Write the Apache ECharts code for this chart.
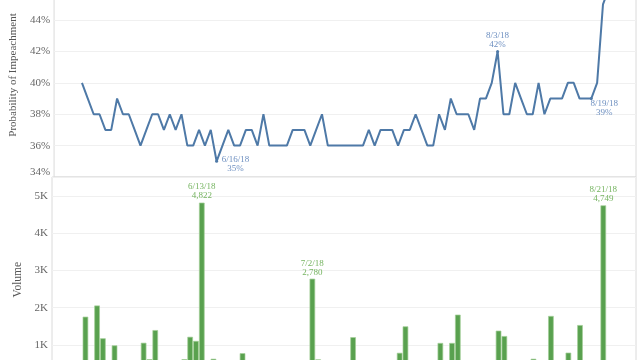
<!DOCTYPE html>
<html>
<head>
<meta charset="utf-8">
<script src="https://cdn.jsdelivr.net/npm/echarts@6/dist/echarts.min.js"></script>
<style>
html,body{margin:0;padding:0;background:#fff;overflow:hidden;width:640px;height:360px;}
#c{position:absolute;left:0;top:-27px;width:640px;height:412px;}
</style>
</head>
<body>
<div id="c"></div>
<script>
// First day of the daily series (May 24, 2018), one point per day
const START_YEAR = 2018, START_MONTH = 4, START_DAY = 24, DAY_COUNT = 91;

// Probability of impeachment (%), daily
const prob = [
  40,39,38,38,37,37,39,38,38,37,
  36,37,38,38,37,38,37,38,36,36,
  37,36,37,35,36,37,36,36,37,37,
  36,38,36,36,36,36,37,37,37,36,
  37,38,36,36,36,36,36,36,36,37,
  36,37,37,37,36,37,37,38,37,36,
  36,38,37,39,38,38,38,37,39,39,
  40,42,38,38,40,39,38,38,40,38,
  39,39,39,40,40,39,39,39,40,45,
  46
];

// Trading volume, daily
const volume = [
  1760,350,2060,1180,420,990,380,260,310,450,
  1060,620,1400,330,280,400,350,620,1220,1110,
  4822,480,630,520,300,260,340,780,410,290,
  250,380,300,220,260,310,280,350,420,2780,
  615,380,260,200,240,310,1210,330,270,360,
  300,280,340,450,790,1500,360,420,330,300,
  280,1055,390,1055,1815,420,360,330,400,460,
  520,1385,1240,440,380,350,320,630,540,410,
  1780,380,330,795,420,1535,360,420,560,4749,
  540
];

// Annotated dates
const lineNotes = ['6/16/18', '8/3/18', '8/19/18'];
const barNotes = ['6/13/18', '7/2/18', '8/21/18'];

// Tick labels
const probTicks = [34, 36, 38, 40, 42, 44];
const volTicks = [1000, 2000, 3000, 4000, 5000];

const DAY = 86400000;
const dates = [];
for (let i = 0; i < DAY_COUNT; i++) dates.push(new Date(START_YEAR, START_MONTH, START_DAY + i).getTime());
const fmtDate = t => { const d = new Date(t); return (d.getMonth() + 1) + '/' + d.getDate() + '/' + String(d.getFullYear()).slice(2); };

const FONT = 'Liberation Serif';
const t0 = dates[0];

const lineOffsets = { '6/16/18': [19, 3], '8/3/18': [0, -11], '8/19/18': [13, 10] };

const lineData = dates.map((t, i) => {
  const key = fmtDate(t);
  const item = { value: [t, prob[i]] };
  if (lineNotes.includes(key)) {
    item.symbolSize = 3;
    item.label = {
      show: true, position: 'inside', offset: lineOffsets[key] || [0, -10],
      align: 'center', verticalAlign: 'middle',
      formatter: key + '\n' + prob[i] + '%',
      fontFamily: FONT, fontSize: 9, lineHeight: 9, color: '#6d8fc0'
    };
  }
  return item;
});

const barData = dates.map((t, i) => {
  const key = fmtDate(t);
  const item = { value: [t, volume[i]] };
  if (barNotes.includes(key)) {
    item.label = {
      show: true, position: 'top', distance: 2,
      formatter: key + '\n' + volume[i].toLocaleString('en-US'),
      fontFamily: FONT, fontSize: 9, lineHeight: 9, color: '#76b461', align: 'center'
    };
  }
  return item;
});

const chart = echarts.init(document.getElementById('c'), null, { renderer: 'canvas' });
chart.setOption({
  animation: false,
  backgroundColor: '#fff',
  grid: [
    { left: 52, right: 4, top: 0, height: 204, show: true, borderColor: '#dadada', borderWidth: 1 },
    { left: 52, right: 4, top: 204, height: 205.25, show: true, borderColor: '#dadada', borderWidth: 1 }
  ],
  xAxis: [
    { type: 'time', gridIndex: 0, min: t0 - 4.766 * DAY, max: t0 + 94.64 * DAY, show: false },
    { type: 'time', gridIndex: 1, min: t0 - 5.266 * DAY, max: t0 + 94.14 * DAY, show: false }
  ],
  yAxis: [
    {
      type: 'value', gridIndex: 0, min: 34, max: 47, interval: 2,
      name: 'Probability of Impeachment', nameLocation: 'middle', nameGap: 26,
      nameTextStyle: { fontFamily: FONT, fontSize: 11, color: '#555' },
      axisLine: { show: false }, axisTick: { show: false },
      splitLine: { lineStyle: { color: '#f0f0f0', width: 1 } },
      axisLabel: {
        margin: 4, fontFamily: FONT, fontSize: 11, color: '#666',
        formatter: v => probTicks.includes(v) ? (v === probTicks[0] ? '{low|' + v + '%}' : v + '%') : '',
        rich: { low: { fontFamily: FONT, fontSize: 11, color: '#666', padding: [0, 0, 9, 0] } }
      }
    },
    {
      type: 'value', gridIndex: 1, min: 0, max: 5510, interval: 1000,
      name: 'Volume', nameLocation: 'middle', nameGap: 27,
      nameTextStyle: { fontFamily: FONT, fontSize: 11.5, color: '#555' },
      axisLine: { show: false }, axisTick: { show: false },
      splitLine: { lineStyle: { color: '#f0f0f0', width: 1 } },
      axisLabel: {
        margin: 4, fontFamily: FONT, fontSize: 11, color: '#666',
        formatter: v => volTicks.includes(v) ? (v / 1000) + 'K' : ''
      }
    }
  ],
  series: [
    {
      type: 'line', xAxisIndex: 0, yAxisIndex: 0, data: lineData,
      showSymbol: true, showAllSymbol: true, symbol: 'circle', symbolSize: 0,
      itemStyle: { color: '#4e79a7' },
      lineStyle: { color: '#4e79a7', width: 2 },
      emphasis: { disabled: true }
    },
    {
      type: 'bar', xAxisIndex: 1, yAxisIndex: 1, data: barData,
      barWidth: 5.6,
      itemStyle: { color: '#59a14f', borderColor: '#a3cf98', borderWidth: 0.7 },
      emphasis: { disabled: true }
    }
  ]
});
</script>
</body>
</html>
